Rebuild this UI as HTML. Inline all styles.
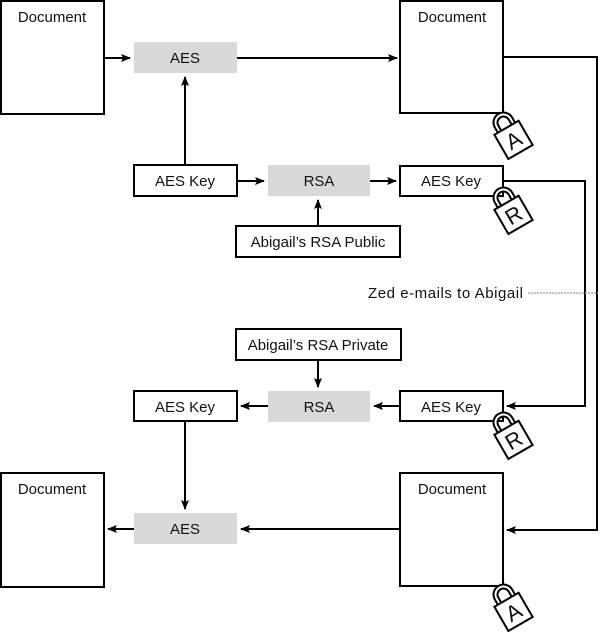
<!DOCTYPE html>
<html><head><style>
html,body{margin:0;padding:0;background:#fff;}
svg{display:block;}
text{font-family:"Liberation Sans",sans-serif;font-size:15px;fill:#111;}
text.lk{font-size:22px;}
</style></head><body>
<svg width="600" height="632" viewBox="0 0 600 632" xmlns="http://www.w3.org/2000/svg">
<defs>
<marker id="ah" markerWidth="10" markerHeight="8" refX="9" refY="4" orient="auto" markerUnits="userSpaceOnUse">
<path d="M0,0 L10,4 L0,8 L2,4 Z" fill="#000"/>
</marker>
<g id="lockbody">
<path d="M-8,-12 V-19 A8,8 0 0 1 8,-19 V-12" fill="none" stroke="#000" stroke-width="6"/>
<path d="M-8,-12 V-19 A8,8 0 0 1 8,-19 V-12" fill="none" stroke="#fff" stroke-width="2"/>
<rect x="-14" y="-13" width="28" height="28" fill="#fff" stroke="#000" stroke-width="2"/>
</g>
</defs>
<g fill="#fff" stroke="#000" stroke-width="2">
<rect x="1" y="1" width="103" height="113"/>
<rect x="400" y="1" width="103" height="112"/>
<rect x="134" y="165" width="103" height="31"/>
<rect x="400" y="166" width="103" height="30"/>
<rect x="236" y="226" width="164" height="31"/>
<rect x="236" y="329" width="165" height="31"/>
<rect x="134" y="391" width="103" height="30"/>
<rect x="400" y="391" width="103" height="30"/>
<rect x="1" y="473" width="103" height="114"/>
<rect x="400" y="473" width="103" height="113"/>
</g>
<g fill="#d9d9d9">
<rect x="134" y="42" width="103" height="31"/>
<rect x="268" y="165" width="102" height="31"/>
<rect x="268" y="391" width="102" height="31"/>
<rect x="134" y="513" width="103" height="31"/>
</g>
<g stroke="#000" stroke-width="2" fill="none" marker-end="url(#ah)">
<line x1="104" y1="58" x2="130" y2="58"/>
<line x1="237" y1="58" x2="397" y2="58"/>
<line x1="185" y1="165" x2="185" y2="77"/>
<line x1="237" y1="181" x2="264" y2="181"/>
<line x1="370" y1="181" x2="396" y2="181"/>
<line x1="318" y1="226" x2="318" y2="200"/>
<polyline points="503,181 585,181 585,406 507,406"/>
<polyline points="503,57 597,57 597,530 507,530"/>
<line x1="318" y1="360" x2="318" y2="387"/>
<line x1="268" y1="406" x2="241" y2="406"/>
<line x1="400" y1="406" x2="374" y2="406"/>
<line x1="185" y1="421" x2="185" y2="509"/>
<line x1="134" y1="529" x2="108" y2="529"/>
<line x1="400" y1="529" x2="241" y2="529"/>
</g>
<line x1="528" y1="293" x2="598" y2="293" stroke="#aaa" stroke-width="1.5" stroke-dasharray="2,1"/>
<g text-anchor="middle">
<text x="52" y="22">Document</text>
<text x="452" y="22">Document</text>
<text x="185" y="63">AES</text>
<text x="185" y="186">AES Key</text>
<text x="319" y="186">RSA</text>
<text x="451" y="186">AES Key</text>
<text x="318" y="247">Abigail’s RSA Public</text>
<text x="318" y="350">Abigail’s RSA Private</text>
<text x="185" y="412">AES Key</text>
<text x="319" y="412">RSA</text>
<text x="451" y="412">AES Key</text>
<text x="52" y="494">Document</text>
<text x="452" y="494">Document</text>
<text x="185" y="534">AES</text>
</g>
<text x="368" y="298" textLength="155">Zed e-mails to Abigail</text>
<g transform="translate(513,139) rotate(-30)"><use href="#lockbody"/><text class="lk" x="0" y="9" text-anchor="middle">A</text></g>
<g transform="translate(513,214) rotate(-30)"><use href="#lockbody"/><text class="lk" x="0" y="9" text-anchor="middle">R</text></g>
<g transform="translate(513,439) rotate(-30)"><use href="#lockbody"/><text class="lk" x="0" y="9" text-anchor="middle">R</text></g>
<g transform="translate(513,611) rotate(-30)"><use href="#lockbody"/><text class="lk" x="0" y="9" text-anchor="middle">A</text></g>
</svg>
</body></html>
